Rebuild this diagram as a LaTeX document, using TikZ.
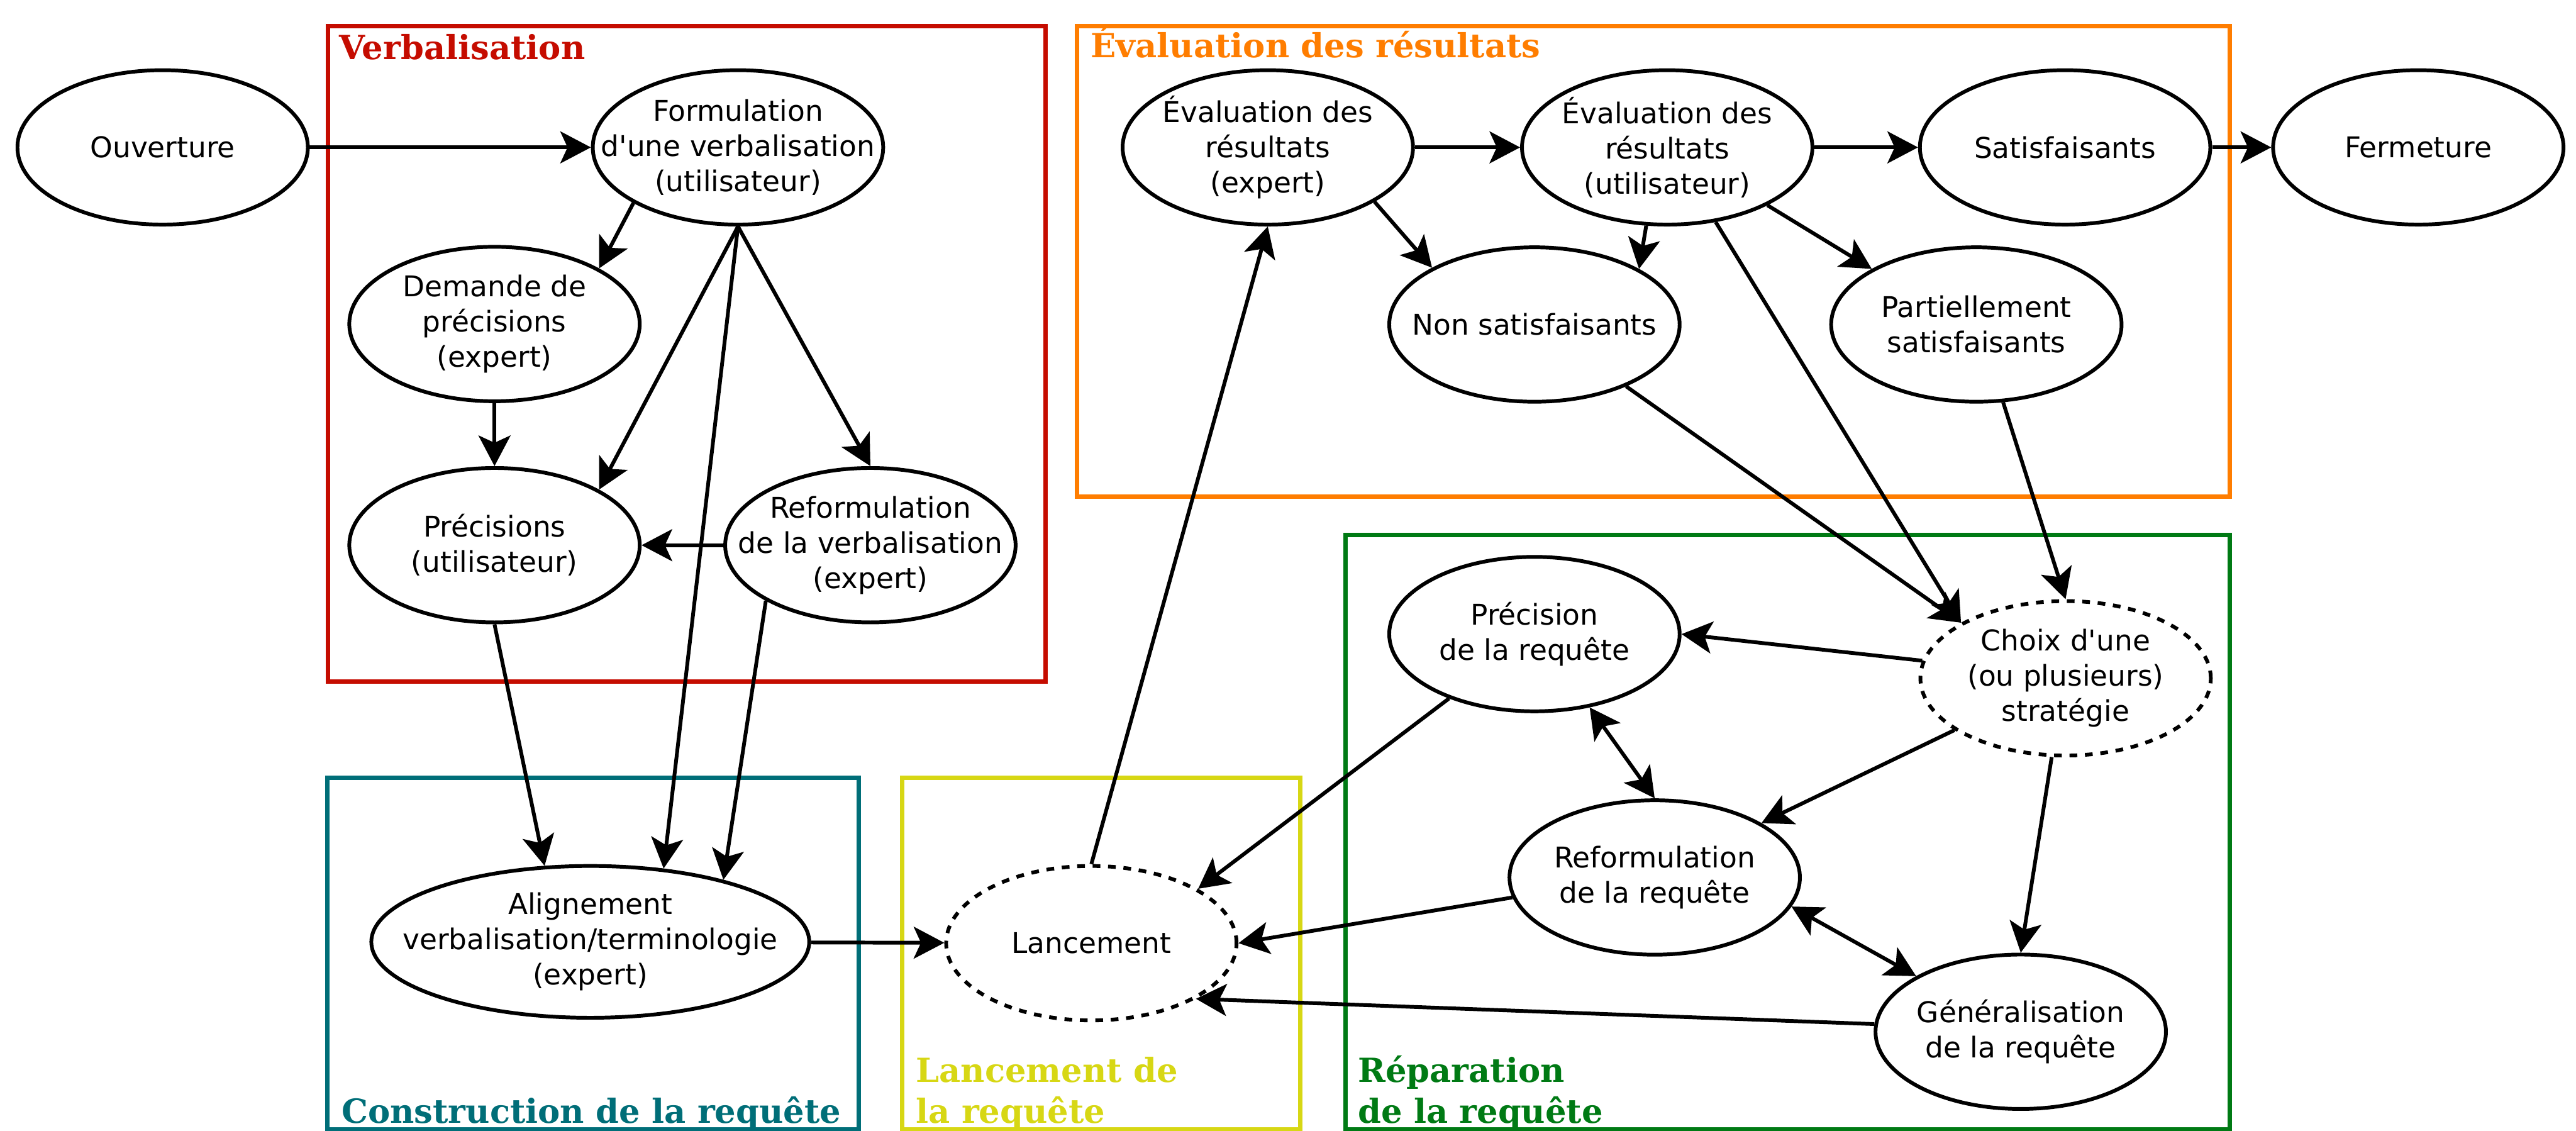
\documentclass[tikz,border=0pt]{standalone}
\usepackage{fontspec}
\setmainfont{DejaVu Sans}[Ligatures=TeXOff]
\newfontfamily\titlefam{DejaVu Serif}
\usetikzlibrary{shapes.geometric,arrows.meta}
\newcommand\ndfont{\fontsize{9.9pt}{12.2pt}\selectfont}
\newcommand\ttlfont{\fontsize{11.5pt}{14.3pt}\titlefam\bfseries}
\definecolor{cred}{HTML}{C50C00}
\definecolor{corange}{HTML}{FF7D00}
\definecolor{cteal}{HTML}{006E78}
\definecolor{cyellow}{HTML}{D7D714}
\definecolor{cgreen}{HTML}{007A14}
\begin{document}
\begin{tikzpicture}[x=0.02cm,y=-0.02cm,
  >={Stealth[length=0.372cm,width=0.388cm,inset=0.088cm]},
  st/.style={ellipse, draw, fill=white, line width=1.3pt, minimum width=3.536cm, minimum height=1.88cm, inner sep=0pt},
  ds/.style={st, dash pattern=on 0.094cm off 0.094cm},
  lb/.style={font=\ndfont, align=center, inner sep=0pt},
  ar/.style={->, line width=1.3pt},
  arr2/.style={<->, line width=1.3pt},
  box/.style={line width=1.5pt},
  ttl/.style={font=\ttlfont, anchor=base west, inner sep=0pt}]
\useasboundingbox (0,0) rectangle (1568,688);
\clip (0,0) rectangle (1568,688);
% boxes
\draw[box, cred] (199.5,15.8) rectangle (636.3,414.9);
\draw[box, corange] (655.5,15.8) rectangle (1357.4,302.3);
\draw[box, cteal] (199.4,473.3) rectangle (522.7,687.5);
\draw[box, cyellow] (549,473.3) rectangle (791.6,687.5);
\draw[box, cgreen] (818.9,325.5) rectangle (1357.1,687.5);
% titles
\node[ttl, text=cred] (tv) at (206.3,36) {Verbalisation};
\node[ttl, text=corange] (te) at (663.7,35) {Évaluation des résultats};
\node[ttl, text=cteal] (tc) at (207.6,683.7) {Construction de la requête};
\node[ttl, text=cyellow] (tl1) at (557.2,658.5) {Lancement de};
\node[ttl, text=cyellow] (tl2) at (557.2,683.7) {la requête};
\node[ttl, text=cgreen] (tr1) at (826.2,658.5) {Réparation};
\node[ttl, text=cgreen] (tr2) at (826.2,683.7) {de la requête};
% nodes
\node[st, label={[lb]center:Ouverture}] (ouv) at (99,89.7) {};
\node[st, label={[lb]center:Formulation\\d'une verbalisation\\(utilisateur)}] (frm) at (449.2,89.7) {};
\node[st, label={[lb]center:Demande de\\précisions\\(expert)}] (dem) at (301,197.2) {};
\node[st, label={[lb]center:Précisions\\(utilisateur)}] (pre) at (301,331.8) {};
\node[st, label={[lb]center:Reformulation\\de la verbalisation\\(expert)}] (rfv) at (529.8,331.8) {};
\node[st, minimum width=5.332cm, minimum height=1.848cm, label={[lb]center:Alignement\\verbalisation/terminologie\\(expert)}] (alg) at (359.3,573.2) {};
\node[ds, label={[lb]center:Lancement}] (lan) at (664.3,574) {};
\node[st, label={[lb]center:Évaluation des\\résultats\\(expert)}] (eve) at (771.7,89.7) {};
\node[st, label={[lb]center:Évaluation des\\résultats\\(utilisateur)}] (evu) at (1014.8,89.7) {};
\node[st, label={[lb]center:Satisfaisants}] (sat) at (1257,89.7) {};
\node[st, label={[lb]center:Fermeture}] (fer) at (1472,89.7) {};
\node[st, label={[lb]center:Non satisfaisants}] (non) at (934,197.5) {};
\node[st, label={[lb]center:Partiellement\\satisfaisants}] (par) at (1203,197.5) {};
\node[st, label={[lb]center:Précision\\de la requête}] (prq) at (934,385.9) {};
\node[ds, label={[lb]center:Choix d'une\\(ou plusieurs)\\stratégie}] (cho) at (1257.3,412.8) {};
\node[st, label={[lb]center:Reformulation\\de la requête}] (rrq) at (1007.2,534) {};
\node[st, label={[lb]center:Généralisation\\de la requête}] (gen) at (1230,627.9) {};
% edges
\draw[ar] (ouv) -- (frm);
\draw[ar] (frm.208.7) -- (dem.28.7);
\draw[ar] (frm.south) -- (pre.28);
\draw[ar] (frm.south) -- (alg.45);
\draw[ar] (frm.south) -- (rfv.north);
\draw[ar] (dem) -- (pre);
\draw[ar] (rfv) -- (pre);
\draw[ar] (pre.south) -- (alg.121.7);
\draw[ar] (rfv.208.8) -- (alg.25.6);
\draw[ar] (alg) -- (lan);
\draw[ar] (lan.north) -- (eve.south);
\draw[ar] (eve) -- (evu);
\draw[ar] (eve.-27.5) -- (non.151.9);
\draw[ar] (evu.255) -- (non.28.4);
\draw[ar] (evu) -- (sat);
\draw[ar] (sat) -- (fer);
\draw[ar] (evu.-30.6) -- (par.152.5);
\draw[ar] (evu.-57.7) -- (cho.152.3);
\draw[ar] (non.-34.4) -- (cho.152.3);
\draw[ar] (par.-71.6) -- (cho.north);
\draw[ar] (cho.173.2) -- (prq.east);
\draw[ar] (cho.205.4) -- (rrq.27.2);
\draw[ar] (cho.260.8) -- (gen.north);
\draw[arr2] (prq.-53.6) -- (rrq.north);
\draw[arr2] (rrq.-12.6) -- (gen.152.4);
\draw[ar] (prq.217.3) -- (lan.27.7);
\draw[ar] (rrq.188.9) -- (lan.east);
\draw[ar] (gen.177.6) -- (lan.-28.3);
\end{tikzpicture}
\end{document}
